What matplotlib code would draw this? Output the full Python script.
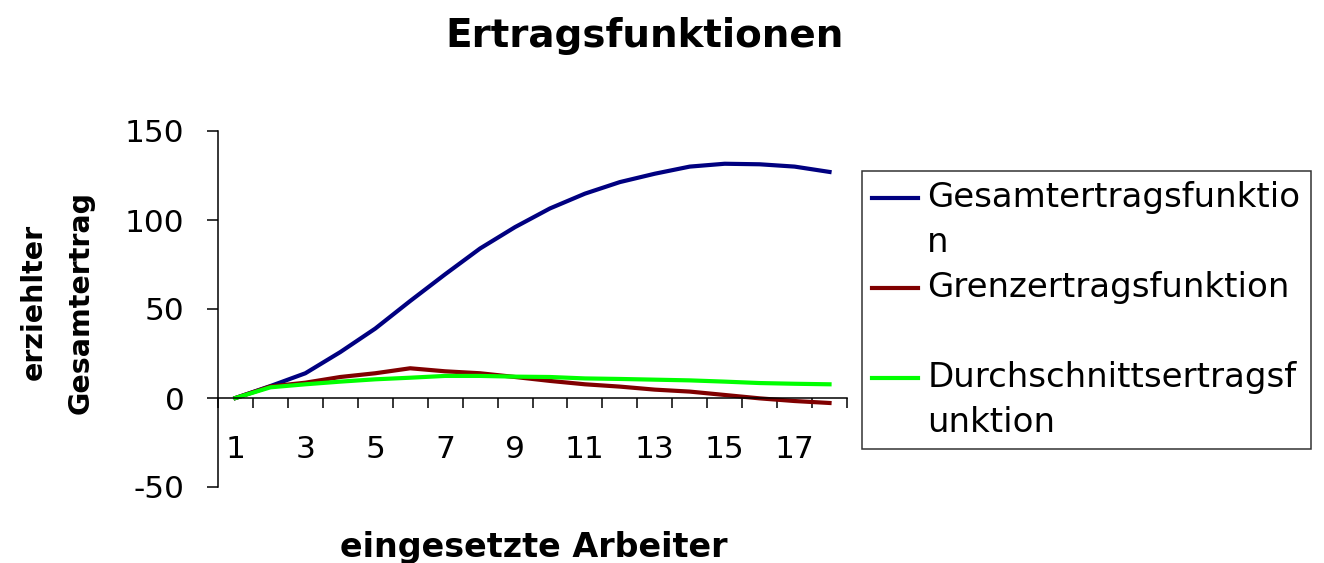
import matplotlib
matplotlib.use("Agg")
import matplotlib.pyplot as plt
from matplotlib.legend_handler import HandlerLine2D
import numpy as np

plt.rcParams['font.family'] = ['DejaVu Sans']

workers = list(range(1, 19))
gesamt = [0, 6.7, 13.9, 25.8, 39, 54.5, 69.5, 84, 96, 106.5, 114.8, 121.3, 126, 130, 131.6, 131.3, 130, 127]
grenz = [0, 6.5, 8.6, 11.8, 13.9, 16.7, 15, 13.9, 11.8, 9.6, 7.7, 6.4, 4.7, 3.6, 1.7, -0.2, -1.7, -2.8]
durch = [0, 6, 7.7, 9.2, 10.5, 11.4, 12.4, 12.4, 12, 11.8, 11, 10.7, 10.3, 9.9, 9.2, 8.4, 8, 7.7]
labels = ["Gesamtertragsfunktio\nn", "Grenzertragsfunktion\n ", "Durchschnittsertragsf\nunktion"]
colors = ["#000080", "#800000", "#00FF00"]
xtick_labels = [str(v) for v in range(1, 18, 2)]
yticks = [-50, 0, 50, 100, 150]

W, H = 1324, 563
PX = 72 / 100  # points per pixel
fig = plt.figure(figsize=(W / 100, H / 100), dpi=100)
ax = fig.add_axes([218 / W, 1 - 487 / H, (847 - 218) / W, (487 - 131) / H])

for series, lab, col in zip([gesamt, grenz, durch], labels, colors):
    ax.plot(workers, series, color=col, lw=3.0, label=lab)

ax.set_xlim(0.5, 18.5)
ax.set_ylim(-50, 150)
ax.spines['top'].set_visible(False)
ax.spines['right'].set_visible(False)
ax.spines['bottom'].set_position(('data', 0))
for s in ['left', 'bottom']:
    ax.spines[s].set_color('black')
    ax.spines[s].set_linewidth(1.1)

tick_fs = 22.5
ax.set_xticks(range(1, 18, 2))
ax.set_xticklabels(xtick_labels, fontsize=tick_fs)
ax.set_xticks(np.arange(0.5, 18.6, 1.0), minor=True)
ax.tick_params(axis='x', which='major', length=0, pad=27)
ax.tick_params(axis='x', which='minor', length=7.5, direction='out', width=1.1)
ax.set_yticks(yticks)
ax.set_yticklabels([str(v) for v in yticks], fontsize=tick_fs)
ax.tick_params(axis='y', which='major', length=8, direction='out', width=1.1, pad=16)

fig.text(645 / W, 1 - 47 / H, "Ertragsfunktionen", ha='center', va='baseline',
         fontsize=28, fontweight='bold')
fig.text(534 / W, 1 - 557 / H, "eingesetzte Arbeiter", ha='center', va='baseline',
         fontsize=24, fontweight='bold')
fig.text(57 / W, 1 - 302 / H, "erziehlter\nGesamtertrag", ha='center', va='center',
         fontsize=20.5, fontweight='bold', rotation=90, linespacing=1.85)


class TopHandler(HandlerLine2D):
    def __init__(self, offset, **kw):
        super().__init__(**kw)
        self.offset = offset

    def create_artists(self, legend, orig_handle, xdescent, ydescent, width, height, fontsize, trans):
        arts = super().create_artists(legend, orig_handle, xdescent, ydescent, width, height, fontsize, trans)
        for a in arts:
            y = np.asarray(a.get_ydata(), dtype=float)
            a.set_ydata(y + self.offset)
        return arts


fs = 24.5
handles, labs = ax.get_legend_handles_labels()
leg = fig.legend(handles, labs, loc='upper left', bbox_to_anchor=(862 / W, 1 - 171 / H),
                 frameon=True, fancybox=False, edgecolor='black', fontsize=fs,
                 handlelength=1.35, handletextpad=0.27, labelspacing=0.35,
                 borderpad=0.3, borderaxespad=0,
                 handler_map={h: TopHandler(offset=23 * PX) for h in handles})
leg.get_frame().set_linewidth(1.1)
for t in leg.get_texts():
    t.set_linespacing(1.46)

fig.savefig("out.png", dpi=100)
